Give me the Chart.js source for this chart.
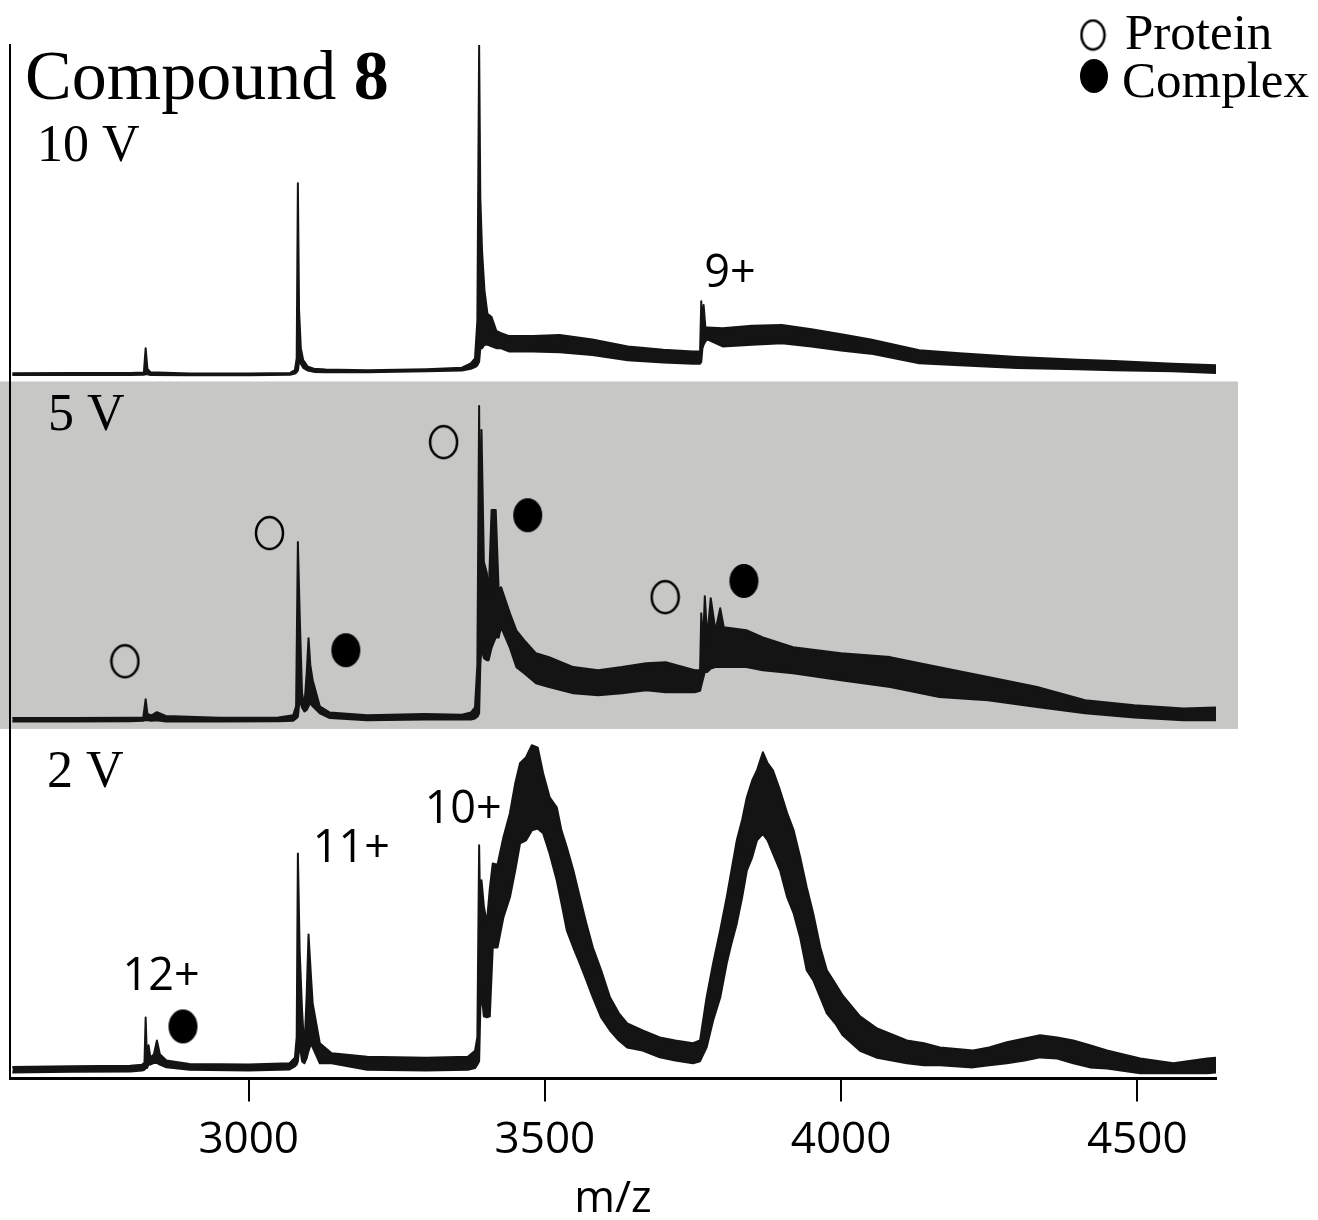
<!DOCTYPE html>
<html>
<head>
<meta charset="utf-8">
<title>Compound 8</title>
<script src="https://cdn.jsdelivr.net/npm/chart.js@4.4.1/dist/chart.umd.min.js"></script>
<style>
    html, body { margin: 0; padding: 0; background: #ffffff; }
    #wrap { position: relative; width: 1318px; height: 1220px; }
</style>
</head>
<body>
<div id="wrap"><canvas id="myChart"></canvas></div>
<script>
// m/z ticks
const xTicks = [3000, 3500, 4000, 4500];

// 10 V spectrum: m/z, upper and lower edge of the noisy trace (relative intensity, %)
const mz10 = [2601, 2700, 2800, 2823, 2826, 2829, 2834, 2900, 3000, 3070, 3078, 3081, 3083, 3085, 3088, 3092, 3100, 3110, 3130, 3200, 3300, 3360, 3375, 3382, 3386, 3389, 3391, 3394, 3398, 3403, 3410, 3418, 3425, 3440, 3480, 3525, 3580, 3640, 3700, 3750, 3762, 3764, 3766, 3768, 3771, 3775, 3800, 3850, 3900, 3950, 4000, 4050, 4132, 4200, 4297, 4400, 4461, 4560, 4633];
const hi10 = [4.7, 4.8, 4.8, 4.9, 12.0, 6.0, 5.0, 4.6, 4.6, 4.8, 5.6, 9.0, 59.9, 23.0, 12.0, 8.5, 6.6, 6.0, 5.8, 5.6, 5.9, 6.3, 7.6, 9.0, 20.0, 100, 55.8, 40.0, 28.8, 22.0, 21.0, 17.0, 16.4, 15.5, 15.5, 15.8, 14.5, 12.5, 11.5, 11.0, 11.0, 25.6, 17.0, 24.5, 18.0, 18.0, 17.8, 18.5, 18.7, 17.5, 16.0, 14.5, 11.4, 10.5, 9.4, 8.6, 8.3, 7.5, 7.0];
const lo10 = [4.2, 4.2, 4.2, 4.3, 4.4, 4.4, 4.2, 4.1, 4.1, 4.3, 4.6, 5.0, 5.5, 8.0, 7.5, 6.3, 5.5, 5.1, 5.0, 5.0, 5.3, 5.5, 6.0, 6.5, 7.0, 8.0, 12.0, 12.0, 13.0, 13.0, 12.5, 12.0, 12.0, 11.0, 11.0, 10.8, 10.0, 8.5, 7.8, 7.5, 7.5, 8.0, 12.0, 13.0, 14.0, 14.5, 12.5, 13.0, 13.4, 12.5, 11.3, 10.4, 7.6, 7.0, 6.2, 5.9, 5.6, 5.3, 4.8];

// 5 V spectrum
const mz5 = [2601, 2700, 2800, 2822, 2826, 2829, 2836, 2845, 2860, 2950, 3050, 3075, 3080, 3083, 3086, 3090, 3094, 3098, 3101, 3104, 3108, 3120, 3137, 3200, 3297, 3360, 3375, 3382, 3386, 3389, 3391, 3393, 3397, 3402, 3405, 3410, 3417, 3422, 3426, 3441, 3452, 3465, 3485, 3507, 3548, 3590, 3630, 3671, 3704, 3753, 3762, 3764, 3767, 3770, 3774, 3780, 3788, 3796, 3802, 3840, 3868, 3919, 4000, 4083, 4166, 4248, 4331, 4412, 4495, 4578, 4633];
const hi5 = [4.6, 4.6, 4.7, 4.8, 10.1, 5.8, 5.4, 6.3, 5.2, 4.7, 4.8, 5.4, 8.0, 55.7, 35.0, 12.0, 8.0, 18.0, 27.8, 20.0, 15.6, 8.0, 6.2, 5.4, 5.8, 5.6, 6.2, 7.7, 20.0, 95.2, 45.0, 88.2, 50.0, 46.7, 40.0, 65.0, 65.0, 41.7, 42.6, 35.0, 30.0, 27.2, 23.4, 22.3, 19.4, 18.5, 19.4, 20.5, 20.8, 18.5, 18.5, 35.0, 26.0, 40.0, 28.0, 39.4, 30.0, 36.5, 31.0, 30.1, 28.0, 25.2, 23.4, 22.3, 19.4, 16.5, 13.6, 9.8, 8.3, 7.4, 7.7];
const lo5 = [3.6, 3.6, 3.7, 3.8, 4.0, 4.0, 3.8, 4.0, 3.6, 3.6, 3.7, 3.8, 4.5, 5.0, 10.0, 7.7, 6.5, 7.0, 8.0, 9.0, 8.0, 6.0, 4.6, 4.0, 4.2, 4.2, 4.2, 4.5, 5.0, 6.0, 20.0, 25.0, 22.0, 21.4, 21.4, 25.0, 28.0, 28.0, 31.0, 25.0, 19.4, 17.6, 14.7, 13.6, 11.8, 11.2, 11.8, 12.7, 12.1, 12.1, 12.5, 14.0, 16.0, 18.0, 18.0, 19.0, 19.4, 19.4, 19.4, 19.4, 18.5, 17.6, 15.6, 13.6, 10.7, 9.8, 7.8, 6.0, 4.8, 4.0, 4.0];

// 2 V spectrum
const mz2 = [2601, 2700, 2800, 2820, 2824, 2826, 2828, 2831, 2834, 2840, 2845, 2850, 2861, 2900, 3000, 3069, 3078, 3081, 3083, 3086, 3090, 3094, 3098, 3101, 3105, 3108, 3120, 3140, 3200, 3300, 3370, 3382, 3386, 3389, 3391, 3393, 3397, 3402, 3407,
    3412, 3420, 3430, 3441, 3450, 3458, 3468, 3478, 3488, 3497, 3508, 3520, 3528, 3537, 3548, 3559, 3570, 3581, 3595, 3610, 3625, 3639, 3665, 3694, 3720, 3750, 3762, 3773, 3784, 3796, 3807, 3815, 3824, 3833, 3841, 3850, 3858, 3868, 3876, 3885, 3897, 3909, 3920, 3931, 3942, 3953, 3965, 3976, 3990, 4003, 4032, 4061,
    4111, 4140, 4167, 4223, 4250, 4280, 4310, 4336, 4365, 4392, 4420, 4449, 4505, 4561, 4618, 4633];
const hi2 = [3.3, 3.5, 3.7, 4.0, 4.5, 17.7, 7.0, 9.6, 6.0, 7.0, 11.0, 7.0, 5.2, 4.2, 4.0, 4.4, 6.0, 12.0, 65.3, 37.2, 20.0, 8.0, 25.0, 41.8, 30.0, 21.8, 10.2, 7.3, 6.3, 6.0, 6.3, 8.0, 12.0, 67.7, 45.0, 57.5, 50.0, 45.0, 55.0,
    62.4, 62.0, 70.0, 77.0, 85.7, 91.5, 93.2, 96.7, 96.0, 88.6, 81.6, 78.7, 72.0, 67.1, 60.4, 52.6, 45.0, 38.0, 31.4, 23.5, 18.9, 16.0, 13.9, 11.9, 11.0, 10.2, 11.0, 23.5, 33.4, 43.0, 52.6, 60.4, 69.1, 75.0, 81.6, 86.5, 89.4, 94.7, 91.5, 89.4, 83.6, 77.0, 72.0, 64.2, 55.5, 47.9, 38.0, 31.4, 27.6, 24.0, 18.0, 14.5,
    11.0, 10.2, 9.0, 8.1, 9.0, 10.5, 11.6, 12.5, 11.9, 11.0, 9.6, 8.1, 5.8, 4.4, 5.8, 6.0];
const lo2 = [1.7, 1.9, 2.0, 2.3, 2.5, 3.0, 3.0, 4.0, 4.0, 4.5, 4.5, 4.0, 3.2, 2.5, 2.3, 2.6, 3.5, 4.0, 5.0, 10.0, 5.0, 4.4, 6.0, 8.0, 10.0, 9.0, 4.4, 4.4, 2.5, 2.3, 2.5, 3.0, 4.0, 5.0, 20.0, 25.0, 18.0, 17.7, 18.0,
    38.0, 38.0, 46.8, 52.6, 60.4, 68.2, 69.1, 72.0, 72.5, 71.2, 65.3, 57.5, 50.8, 43.0, 38.0, 33.4, 28.5, 23.5, 17.7, 13.9, 11.0, 9.0, 8.1, 6.1, 5.2, 4.4, 5.0, 9.0, 16.8, 23.5, 33.4, 39.2, 45.0, 52.6, 60.4, 64.2, 69.1, 71.0, 69.1, 65.3, 60.4, 52.6, 47.9, 40.9, 31.4, 28.5, 23.5, 18.9, 16.0, 12.5, 8.0, 6.0,
    4.4, 3.8, 3.8, 3.2, 3.8, 4.4, 5.2, 6.1, 5.8, 4.4, 3.2, 2.9, 1.5, 1.5, 1.5, 1.7];

// peak markers (m/z, intensity within the trace)
const protein5Mz = [2791, 3035, 3329, 3703];
const protein5Int = [21.1, 58.3, 84.7, 39.7];
const complex5Mz = [3164, 3471, 3836];
const complex5Int = [24.3, 63.5, 44.4];
const complex2Mz = [2889];
const complex2Int = [15.1];

// charge state labels
const chargeText = ['9+', '10+', '11+', '12+'];
const chargeMz = [3769, 3297, 3108, 2787];
const chargeInt = [29.7, 74.1, 62.7, 25.6];
const chargeTrace = ['10 V', '2 V', '2 V', '2 V'];

const traceNames = ['10 V', '5 V', '2 V'];

const ink = '#141414';
const serif = '"Liberation Serif", "Times New Roman", serif';
const sans = '"Open Sans", "DejaVu Sans", sans-serif';

// each trace sits in its own third of the y axis
const traceOffset = { '10 V': 200, '5 V': 100, '2 V': 0 };

function traceDatasets(mz, hi, lo, name) {
    const off = traceOffset[name];
    const common = {
        borderColor: ink,
        borderWidth: 2,
        borderJoinStyle: 'round',
        pointRadius: 0,
        tension: 0
    };
    return [
        Object.assign({ label: name + ' low', data: mz.map((m, i) => ({ x: m, y: lo[i] + off })), fill: false }, common),
        Object.assign({ label: name + ' high', data: mz.map((m, i) => ({ x: m, y: hi[i] + off })), fill: '-1', backgroundColor: ink }, common)
    ];
}

function ellipse(w, h, filled) {
    const c = document.createElement('canvas');
    c.width = w + 4;
    c.height = h + 4;
    const g = c.getContext('2d');
    g.beginPath();
    g.ellipse(c.width / 2, c.height / 2, w / 2, h / 2, 0, 0, Math.PI * 2);
    if (filled) {
        g.fillStyle = '#000';
        g.fill();
    } else {
        g.lineWidth = 2.5;
        g.strokeStyle = '#000';
        g.stroke();
    }
    return c;
}

const openMark = ellipse(27, 32, false);
const fullMark = ellipse(29, 34, true);

function markers(mz, ints, name, img, label) {
    const off = traceOffset[name];
    return {
        label: label,
        data: mz.map((m, i) => ({ x: m, y: ints[i] + off })),
        showLine: false,
        pointStyle: img,
        pointRadius: 15,
        clip: false
    };
}

const datasets = [].concat(
    traceDatasets(mz10, hi10, lo10, '10 V'),
    traceDatasets(mz5, hi5, lo5, '5 V'),
    traceDatasets(mz2, hi2, lo2, '2 V'),
    [
        markers(protein5Mz, protein5Int, '5 V', openMark, 'Protein'),
        markers(complex5Mz, complex5Int, '5 V', fullMark, 'Complex'),
        markers(complex2Mz, complex2Int, '2 V', fullMark, 'Complex')
    ]
);

// grey band behind the 5 V trace
const bandPlugin = {
    id: 'band',
    beforeDraw(chart) {
        const { ctx, chartArea, scales } = chart;
        const top = scales.y.getPixelForValue(traceOffset['5 V'] + 100) - 8;
        const bottom = scales.y.getPixelForValue(traceOffset['5 V']) - 5;
        ctx.save();
        ctx.fillStyle = '#c7c7c5';
        ctx.fillRect(0, top, chartArea.right + 22, bottom - top);
        ctx.restore();
    }
};

// titles, legend and charge labels
const textPlugin = {
    id: 'texts',
    afterDraw(chart) {
        const { ctx, chartArea, scales } = chart;
        const left = chartArea.left;
        ctx.save();
        ctx.fillStyle = '#000';
        ctx.textBaseline = 'alphabetic';
        ctx.textAlign = 'left';

        ctx.font = '70px ' + serif;
        ctx.fillText('Compound ', left + 15, 99);
        const w = ctx.measureText('Compound ').width;
        ctx.font = 'bold 70px ' + serif;
        ctx.fillText('8', left + 15 + w, 99);

        ctx.font = '52px ' + serif;
        const nameY = [161, 430, 787];
        const nameX = [27, 38, 37];
        traceNames.forEach((t, i) => ctx.fillText(t, left + nameX[i], nameY[i]));

        // legend
        ctx.drawImage(ellipse(23, 29, false), 1093 - 13.5, 35 - 16.5);
        ctx.drawImage(ellipse(28, 34, true), 1094 - 16, 76 - 19);
        ctx.font = '51px ' + serif;
        ctx.fillText('Protein', 1125, 49);
        ctx.fillText('Complex', 1122, 97);

        ctx.font = '45px ' + sans;
        chargeText.forEach((t, i) => {
            const x = scales.x.getPixelForValue(chargeMz[i]);
            const y = scales.y.getPixelForValue(chargeInt[i] + traceOffset[chargeTrace[i]]);
            ctx.fillText(t, x, y);
        });
        ctx.restore();
    }
};

const config = {
    type: 'line',
    data: { datasets: datasets },
    options: {
        responsive: true,
        maintainAspectRatio: false,
        animation: false,
        layout: {
            autoPadding: false,
            padding: { left: 10, right: 102, top: 45, bottom: 1 }
        },
        scales: {
            x: {
                type: 'linear',
                min: 2597,
                max: 4633,
                border: { display: true, color: '#000', width: 3 },
                grid: {
                    display: true,
                    drawOnChartArea: false,
                    drawTicks: true,
                    tickLength: 23,
                    color: '#000',
                    lineWidth: 2
                },
                afterBuildTicks: (axis) => {
                    axis.ticks = xTicks.map(v => ({ value: v }));
                },
                ticks: {
                    color: '#000',
                    padding: 17,
                    maxRotation: 0,
                    autoSkip: false,
                    font: { family: sans, size: 44, lineHeight: 1 },
                    callback: (value) => String(value)
                },
                title: {
                    display: true,
                    text: 'm/z',
                    color: '#000',
                    padding: { top: 0, bottom: 0 },
                    font: { family: sans, size: 44, lineHeight: 0.9 }
                }
            },
            y: {
                type: 'linear',
                min: 0,
                max: 300,
                border: { display: true, color: '#000', width: 2 },
                grid: { display: false, drawTicks: false, tickLength: 0 },
                ticks: { display: false }
            }
        },
        plugins: {
            legend: { display: false },
            tooltip: { enabled: false }
        }
    },
    plugins: [bandPlugin, textPlugin]
};

const myChart = new Chart(
    document.getElementById('myChart'),
    config
);
</script>
</body>
</html>
